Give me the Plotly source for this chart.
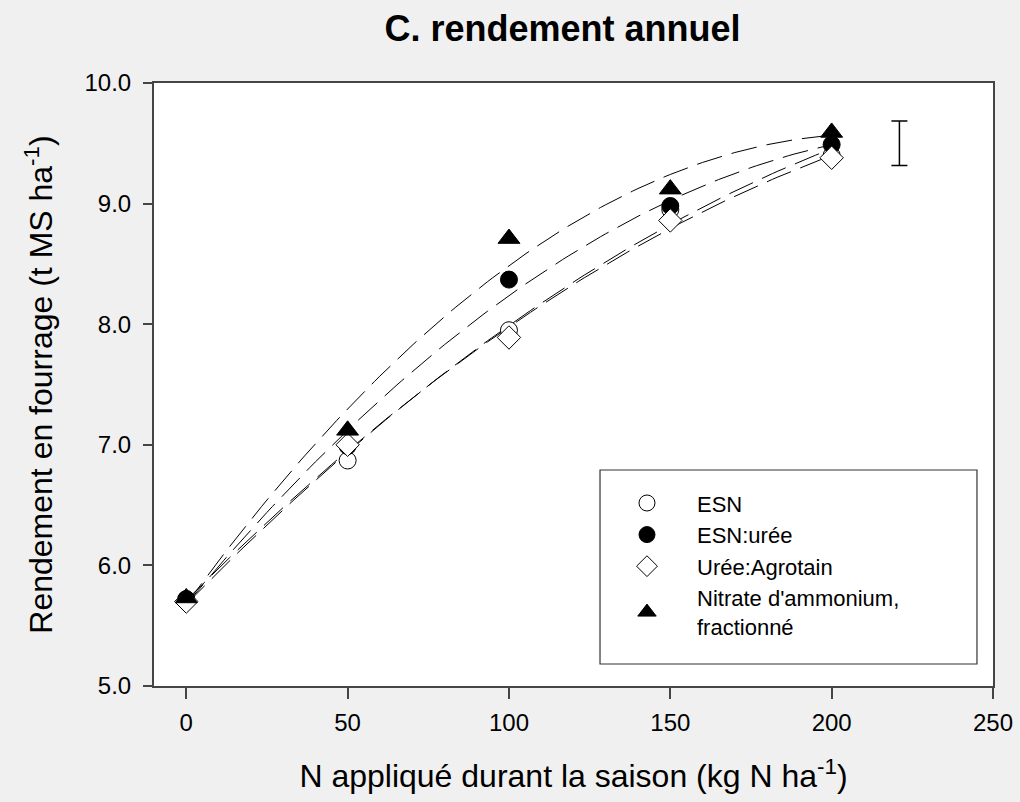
import numpy as np
import plotly.graph_objects as go

# ---- data ----
n_applied = [0, 50, 100, 150, 200]
series_names = ["ESN", "ESN:urée", "Urée:Agrotain", "Nitrate d'ammonium,<br>fractionné"]
esn = [5.72, 6.87, 7.95, 8.95, 9.40]
esn_uree = [5.72, 6.99, 8.37, 8.98, 9.49]
uree_agrotain = [5.70, 7.00, 7.89, 8.86, 9.38]
nitrate_amm = [5.73, 7.12, 8.71, 9.12, 9.59]
lsd_x = [221]
lsd_center = [9.50]
lsd_half = [0.185]

x_ticks = [0, 50, 100, 150, 200, 250]
y_ticks = [5.0, 6.0, 7.0, 8.0, 9.0, 10.0]

all_series = [esn, esn_uree, uree_agrotain, nitrate_amm]
symbols = ["circle-open", "circle", "diamond-open", "triangle-up"]
sizes = [17, 17, 18, 19]

FONT = "Liberation Sans, Arial, sans-serif"

fig = go.Figure()

# fitted quadratic curves (regression through each series)
xs = np.array(n_applied, dtype=float)
xfit = np.linspace(min(n_applied), max(n_applied), 121)
for vals in all_series:
    coef = np.polyfit(xs, np.array(vals), 2)
    fig.add_trace(go.Scatter(
        x=xfit, y=np.polyval(coef, xfit), mode="lines",
        line=dict(color="black", width=1, dash="26px,10px"),
        showlegend=False, hoverinfo="skip"))

for name, vals, sym, sz in zip(series_names, all_series, symbols, sizes):
    open_ = sym.endswith("open")
    fig.add_trace(go.Scatter(
        x=n_applied, y=vals, mode="markers", name=name,
        marker=dict(symbol=sym.replace("-open", ""), size=sz,
                    color="white" if open_ else "black",
                    line=dict(color="black", width=1))))

# LSD error bar
fig.add_trace(go.Scatter(
    x=lsd_x, y=lsd_center, mode="markers",
    marker=dict(size=1, color="rgba(0,0,0,0)"),
    error_y=dict(type="data", array=lsd_half, color="black", thickness=1.5, width=8),
    showlegend=False, hoverinfo="skip"))

# legend frame
fig.add_shape(type="rect", xref="paper", yref="paper",
              x0=0.5316, x1=0.9809, y0=0.0365, y1=0.3582,
              line=dict(color="#333333", width=1.2), fillcolor="white", layer="below")

axis_common = dict(
    showline=True, linecolor="#454545", linewidth=2, mirror=True,
    ticks="outside", tickcolor="#454545", tickwidth=1.5,
    showgrid=False, zeroline=False, automargin=False,
    tickfont=dict(family=FONT, size=24, color="black"),
)

fig.update_xaxes(range=[-10, 250], tickvals=x_ticks, ticklen=11,
                 ticklabelstandoff=3,
                 title=dict(text="N appliqué durant la saison (kg N ha<sup>-1</sup>)",
                            font=dict(family=FONT, size=32, color="black"), standoff=30),
                 **axis_common)
fig.update_yaxes(range=[5, 10], tickvals=y_ticks, tickformat=".1f", ticklen=9,
                 ticklabelstandoff=7,
                 title=dict(text="Rendement en fourrage (t MS ha<sup>-1</sup>)",
                            font=dict(family=FONT, size=32, color="black"), standoff=22),
                 **axis_common)

fig.update_layout(
    width=1020, height=802,
    margin=dict(l=154, r=27, t=83, b=116),
    paper_bgcolor="#f0f0f0", plot_bgcolor="white",
    title=dict(text="<b>C. rendement annuel</b>", x=0.5515, xanchor="center",
               y=0.964, yanchor="middle",
               font=dict(family=FONT, size=36, color="black")),
    legend=dict(x=0.528, y=0.338, xanchor="left", yanchor="top",
                bgcolor="rgba(0,0,0,0)", borderwidth=0,
                font=dict(family=FONT, size=22, color="black"),
                itemwidth=90, tracegroupgap=0),
    font=dict(family=FONT),
)

fig.write_html("out.html", config={"displayModeBar": False},
               post_script="document.body.style.margin='0px';document.body.style.background='#f0f0f0';")
